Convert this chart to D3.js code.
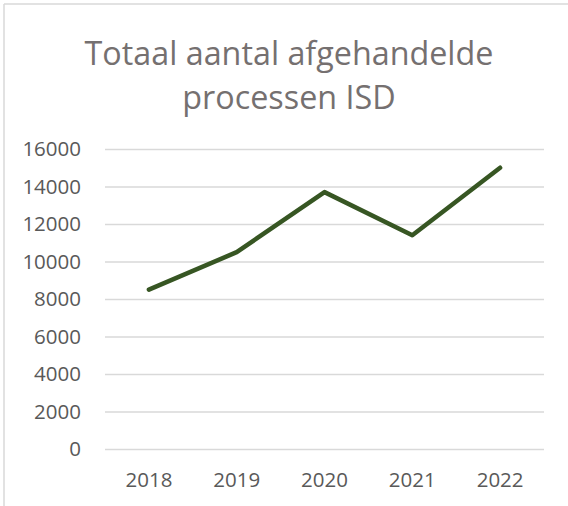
<!DOCTYPE html>
<html>
<head>
<meta charset="utf-8">
<script src="https://cdn.jsdelivr.net/npm/d3@7"></script>
<style>
  body { margin: 0; background: #fff; }
  text { font-family: "Open Sans", sans-serif; }
</style>
</head>
<body>
<div id="chart"></div>
<script>
const years = ["2018", "2019", "2020", "2021", "2022"];
const processen = [8500, 10500, 13700, 11400, 15000];
const yTicks = [0, 2000, 4000, 6000, 8000, 10000, 12000, 14000, 16000];
const titleLines = ["Totaal aantal afgehandelde", "processen ISD"];

const width = 568;
const height = 506;
const margin = { top: 149, right: 24, bottom: 57, left: 105 };

const svg = d3
  .select("#chart")
  .append("svg")
  .attr("width", width)
  .attr("height", height);

// frame (only top and left edge visible)
svg.append("line")
  .attr("x1", 4).attr("x2", width).attr("y1", 4).attr("y2", 4)
  .attr("stroke", "#d9d9d9").attr("stroke-width", 1.5);
svg.append("line")
  .attr("x1", 4).attr("x2", 4).attr("y1", 4).attr("y2", height)
  .attr("stroke", "#d9d9d9").attr("stroke-width", 1.5);

const x = d3
  .scaleBand()
  .domain(years)
  .range([margin.left, width - margin.right]);

const y = d3
  .scaleLinear()
  .domain([0, 16000])
  .range([height - margin.bottom, margin.top]);

// title
svg.append("g")
  .selectAll("text")
  .data(titleLines)
  .join("text")
  .attr("x", 289)
  .attr("y", (d, i) => 65 + i * 44)
  .attr("text-anchor", "middle")
  .attr("font-size", 32.3)
  .attr("fill", "#757070")
  .text((d) => d);

// y axis with gridlines
const yAxis = svg.append("g")
  .attr("transform", `translate(${margin.left},0)`)
  .call(
    d3.axisLeft(y)
      .tickValues(yTicks)
      .tickSize(-(width - margin.left - margin.right))
      .tickPadding(24)
      .tickFormat(d3.format("d"))
  );
yAxis.select(".domain").remove();
yAxis.selectAll(".tick line").attr("stroke", "#d9d9d9").attr("stroke-width", 1.5);
yAxis.selectAll(".tick text")
  .attr("font-size", 20.5)
  .attr("fill", "#595959");

// x axis labels
const xAxis = svg.append("g")
  .attr("transform", `translate(0,${height - margin.bottom})`)
  .call(d3.axisBottom(x).tickSize(0).tickPadding(23));
xAxis.select(".domain").remove();
xAxis.selectAll(".tick text")
  .attr("font-size", 20.5)
  .attr("fill", "#595959");

// line
const line = d3
  .line()
  .x((d, i) => x(years[i]) + x.bandwidth() / 2)
  .y((d) => y(d));

svg.append("path")
  .datum(processen)
  .attr("fill", "none")
  .attr("stroke", "#375623")
  .attr("stroke-width", 4.5)
  .attr("stroke-linejoin", "round")
  .attr("stroke-linecap", "round")
  .attr("d", line);
</script>
</body>
</html>
